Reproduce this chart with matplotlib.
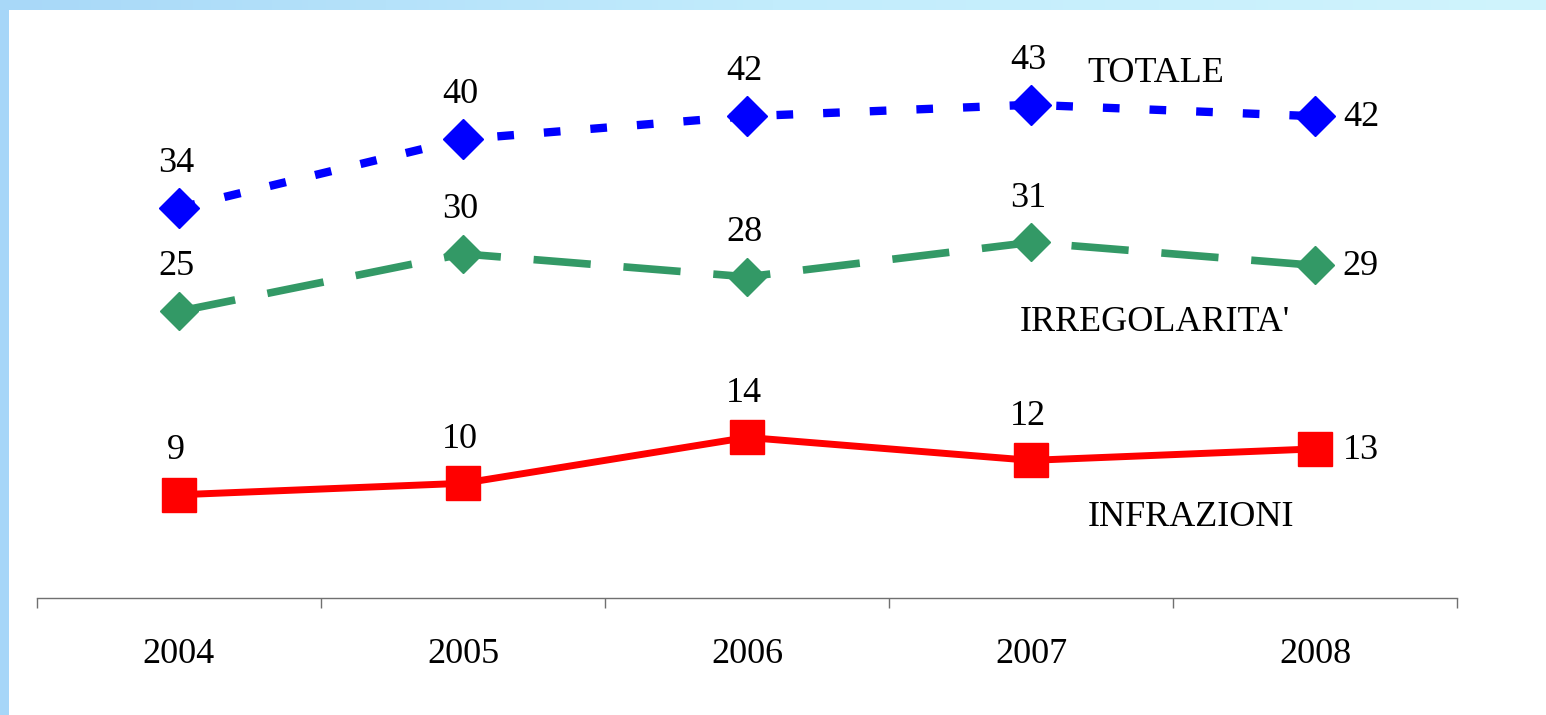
import numpy as np
import matplotlib
matplotlib.use("Agg")
import matplotlib.pyplot as plt
from matplotlib.colors import LinearSegmentedColormap
from matplotlib.patches import Rectangle

years = ["2004", "2005", "2006", "2007", "2008"]
totale = [34, 40, 42, 43, 42]
irregolarita = [25, 30, 28, 31, 29]
infrazioni = [9, 10, 14, 12, 13]

W, H = 1546, 715
plt.rcParams['font.family'] = ['Liberation Serif', 'DejaVu Serif']

fig = plt.figure(figsize=(W / 100, H / 100), dpi=100)
fig.patch.set_facecolor('white')

# frame decoration: gradient band on top, flat band on the left
band = fig.add_axes([0, 1 - 10 / H, 1, 10 / H])
cmap = LinearSegmentedColormap.from_list('band', ['#a8d8f8', '#c2ecfc', '#d0f4fd'])
band.imshow(np.linspace(0, 1, 256)[None, :], aspect='auto', cmap=cmap)
band.set_axis_off()
fig.patches.append(Rectangle((0, 0), 9 / W, 1 - 10 / H, transform=fig.transFigure,
                             facecolor='#a6d6f8', edgecolor='none'))

ax = fig.add_axes([37 / W, (H - 598) / H, 1420 / W, 585 / H])
x = np.arange(len(years))

ax.plot(x, totale, color='#0000ff', lw=6, dashes=(2.0, 3.6), marker='D',
        ms=20, mec='#0000ff', mfc='#0000ff', zorder=3)
ax.plot(x, irregolarita, color='#339966', lw=5.5, dashes=(7.5, 4.3), marker='D',
        ms=19, mec='#339966', mfc='#339966', zorder=3)
ax.plot(x, infrazioni, color='#ff0000', lw=5, marker='s', ms=25,
        mec='#ff0000', mfc='#ff0000', zorder=3)

fs = 26
for series in (totale, irregolarita, infrazioni):
    for i, v in enumerate(series[:-1]):
        ax.annotate(str(v), (x[i], v), xytext=(-2, 20), textcoords='offset points',
                    ha='center', va='bottom', fontsize=fs)
    ax.annotate(str(series[-1]), (x[-1], series[-1]), xytext=(20, -1),
                textcoords='offset points', ha='left', va='center', fontsize=fs)

ax.text(3.2, 45.7, 'TOTALE', fontsize=fs, ha='left', va='center')
ax.text(2.96, 24.0, "IRREGOLARITA'", fontsize=fs, ha='left', va='center')
ax.text(3.2, 7.0, 'INFRAZIONI', fontsize=fs, ha='left', va='center')

ax.set_xlim(-0.5, len(years) - 0.5)
ax.set_ylim(0, 51)
ax.set_xticks(x)
ax.set_xticklabels(years, fontsize=fs)
ax.set_xticks(np.arange(-0.5, len(years)), minor=True)
ax.tick_params(axis='x', which='major', length=0, pad=29)
ax.tick_params(axis='x', which='minor', length=7, width=1, color='#707070', direction='out')
ax.set_yticks([])
for side in ('top', 'right', 'left'):
    ax.spines[side].set_visible(False)
ax.spines['bottom'].set_color('#707070')
ax.spines['bottom'].set_linewidth(1)
ax.patch.set_alpha(0)

fig.savefig('out.png', dpi=100, facecolor='white')
